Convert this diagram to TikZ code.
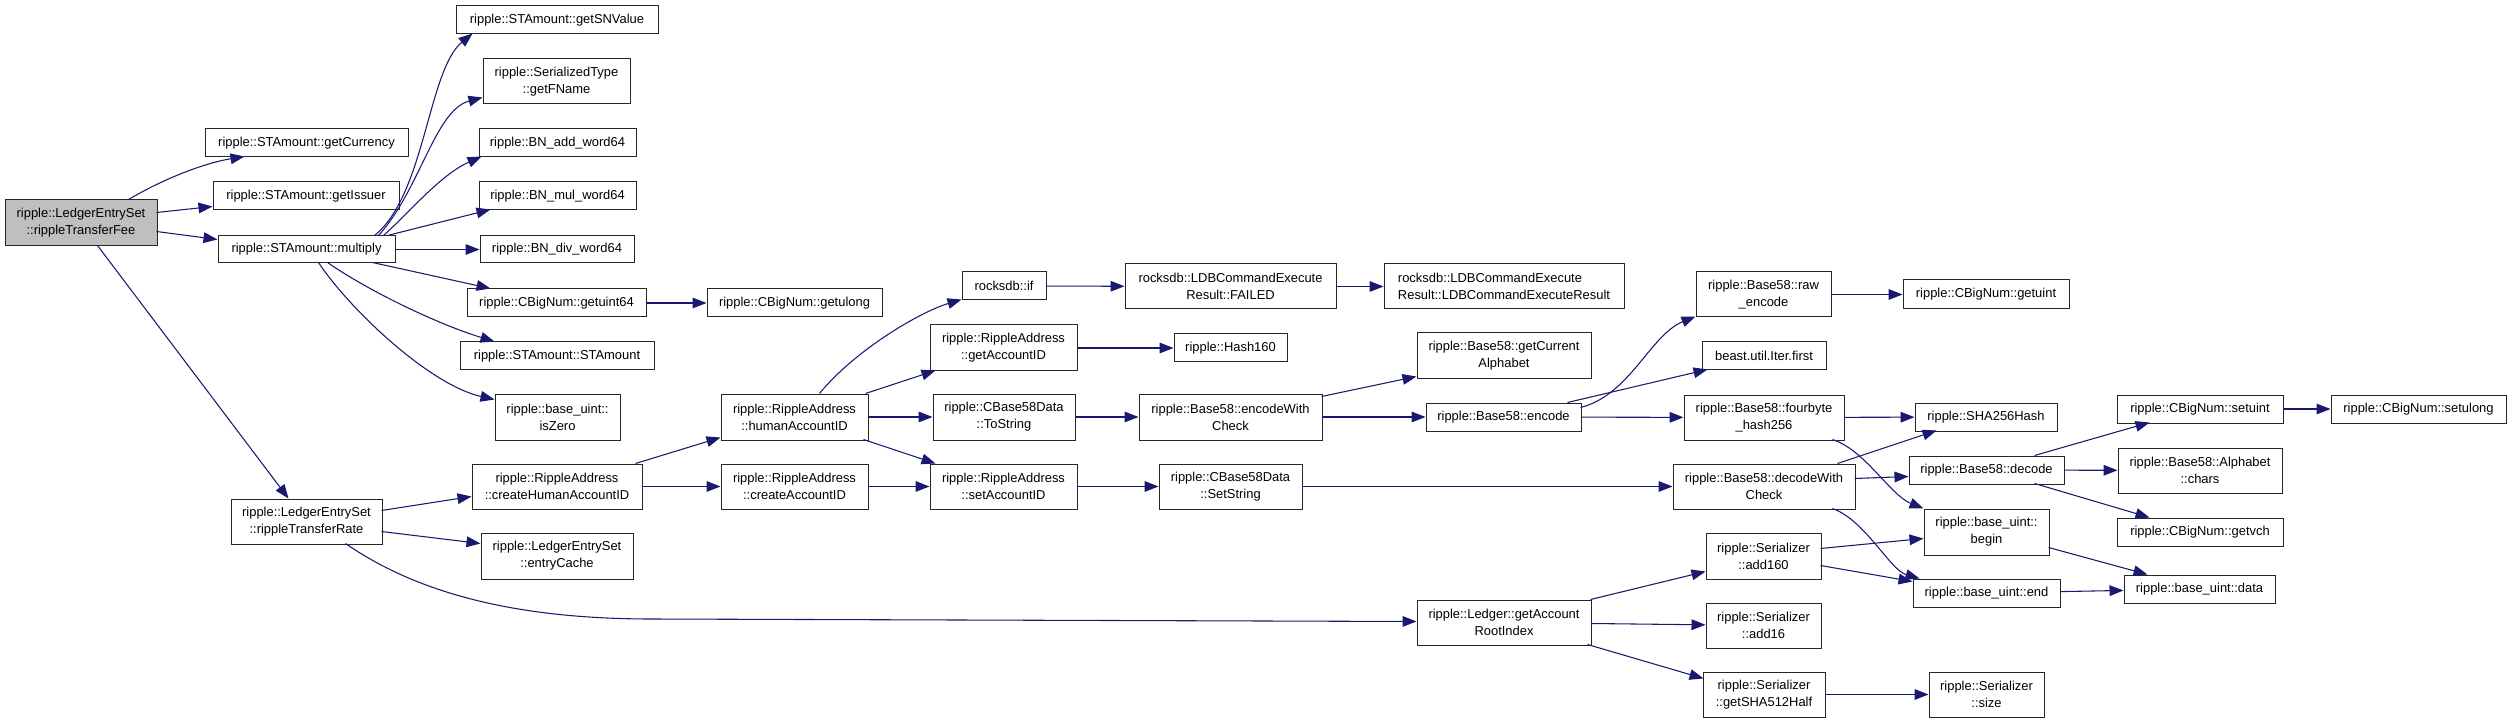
\documentclass[tikz,border=0pt]{standalone}
\usepackage{fontspec}
\setmainfont{Liberation Sans}
\usetikzlibrary{arrows.meta,calc}
\definecolor{edgecol}{RGB}{25,25,112}
\definecolor{rootfill}{RGB}{191,191,191}
\newcommand\nd[7][]{\node[box,#1,minimum width={(#4-#3)*0.75pt},minimum height={(#6-#5)*0.75pt}] (#2) at ({(#3+#4)/2},{(#5+#6)/2}) {#7};}
\begin{document}
\begin{tikzpicture}[x=0.75pt,y=-0.75pt,
  box/.style={draw=black!85,line width=0.75pt,inner sep=0pt,align=center,fill=white,font=\fontsize{9.7}{12.8}\selectfont},
  ce/.style={draw=edgecol,line width=0.8pt,-{Triangle[length=10.5pt,width=8pt]}}]
\useasboundingbox (0,0) rectangle (2512,723);
\nd[fill=rootfill]{fee}{5}{157}{200}{246}{ripple::LedgerEntrySet\\::rippleTransferFee}
\nd{getCurrency}{205}{408}{129}{157}{ripple::STAmount::getCurrency}
\nd{getIssuer}{213}{399}{182}{210}{ripple::STAmount::getIssuer}
\nd{multiply}{218}{395}{236}{263}{ripple::STAmount::multiply}
\nd{rate}{231}{382}{499}{544}{ripple::LedgerEntrySet\\::rippleTransferRate}
\nd{getSNValue}{456}{658}{6}{34}{ripple::STAmount::getSNValue}
\nd{getFName}{483}{630}{59}{104}{ripple::SerializedType\\::getFName}
\nd{BNadd}{479}{636}{129}{157}{ripple::BN\_add\_word64}
\nd{BNmul}{479}{636}{182}{210}{ripple::BN\_mul\_word64}
\nd{BNdiv}{480}{634}{236}{263}{ripple::BN\_div\_word64}
\nd{getuint64}{467}{646}{289}{317}{ripple::CBigNum::getuint64}
\nd{STAmount}{460}{654}{342}{370}{ripple::STAmount::STAmount}
\nd{isZero}{495}{620}{394}{440}{ripple::base\_uint::\\isZero}
\nd{createHuman}{472}{642}{464}{509}{ripple::RippleAddress\\::createHumanAccountID}
\nd{entryCache}{481}{633}{533}{579}{ripple::LedgerEntrySet\\::entryCache}
\nd{getulong}{707}{882}{289}{317}{ripple::CBigNum::getulong}
\nd{human}{721}{868}{394}{440}{ripple::RippleAddress\\::humanAccountID}
\nd{createAcc}{721}{868}{464}{509}{ripple::RippleAddress\\::createAccountID}
\nd{rocksif}{962}{1046}{272}{300}{rocksdb::if}
\nd{getAccID}{930}{1077}{325}{371}{ripple::RippleAddress\\::getAccountID}
\nd{ToString}{933}{1075}{394}{440}{ripple::CBase58Data\\::ToString}
\nd{setAccID}{930}{1077}{464}{509}{ripple::RippleAddress\\::setAccountID}
\nd{FAILED}{1125}{1336}{264}{309}{rocksdb::LDBCommandExecute\\Result::FAILED}
\nd{Hash160}{1174}{1287}{334}{362}{ripple::Hash160}
\nd{encWC}{1139}{1322}{394}{440}{ripple::Base58::encodeWith\\Check}
\nd{SetString}{1159}{1302}{464}{509}{ripple::CBase58Data\\::SetString}
\nd[align=left]{LDBResult}{1384}{1624}{264}{309}{rocksdb::LDBCommandExecute\\Result::LDBCommandExecuteResult}
\nd{getCurAlph}{1417}{1591}{333}{379}{ripple::Base58::getCurrent\\Alphabet}
\nd{encode}{1426}{1581}{403}{431}{ripple::Base58::encode}
\nd{decWC}{1673}{1855}{464}{509}{ripple::Base58::decodeWith\\Check}
\nd{getAcctRoot}{1417}{1591}{600}{645}{ripple::Ledger::getAccount\\RootIndex}
\nd{rawencode}{1696}{1831}{272}{317}{ripple::Base58::raw\\\_encode}
\nd{iterfirst}{1702}{1826}{342}{370}{beast.util.Iter.first}
\nd{fourbyte}{1684}{1844}{395}{440}{ripple::Base58::fourbyte\\\_hash256}
\nd{add160}{1706}{1821}{533}{579}{ripple::Serializer\\::add160}
\nd{add16}{1706}{1821}{603}{648}{ripple::Serializer\\::add16}
\nd{sha512}{1703}{1825}{672}{717}{ripple::Serializer\\::getSHA512Half}
\nd{getuint}{1903}{2069}{280}{309}{ripple::CBigNum::getuint}
\nd{SHA256}{1915}{2057}{403}{431}{ripple::SHA256Hash}
\nd{decode}{1909}{2064}{456}{484}{ripple::Base58::decode}
\nd{beginn}{1924}{2049}{509}{555}{ripple::base\_uint::\\begin}
\nd{endn}{1913}{2060}{579}{607}{ripple::base\_uint::end}
\nd{size}{1929}{2044}{672}{717}{ripple::Serializer\\::size}
\nd{setuint}{2117}{2283}{395}{423}{ripple::CBigNum::setuint}
\nd{chars}{2118}{2282}{448}{493}{ripple::Base58::Alphabet\\::chars}
\nd{getvch}{2117}{2283}{518}{546}{ripple::CBigNum::getvch}
\nd{data}{2124}{2275}{575}{603}{ripple::base\_uint::data}
\nd{setulong}{2331}{2506}{395}{423}{ripple::CBigNum::setulong}

\draw[ce] ($(fee.north west)+(124,0)$) .. controls (165,178) and (205,163) .. ($(getCurrency.north west)+(40,28)$);
\draw[ce] ($(fee.north west)+(152,13)$) -- ($(getIssuer.north west)+(0,25)$);
\draw[ce] ($(fee.north west)+(152,32)$) -- ($(multiply.north west)+(0,4)$);
\draw[ce] ($(fee.north west)+(93,46)$) -- ($(rate.north west)+(58,0)$);
\draw[ce] ($(multiply.north west)+(157,0)$) .. controls (425,195) and (428,70) .. ($(getSNValue.north west)+(17,28)$);
\draw[ce] ($(multiply.north west)+(161,0)$) .. controls (420,190) and (435,110) .. ($(getFName.north west)+(0,39)$);
\draw[ce] ($(multiply.north west)+(166,0)$) .. controls (410,212) and (440,175) .. ($(BNadd.north west)+(3,28)$);
\draw[ce] ($(multiply.north west)+(170,0)$) -- ($(BNmul.north west)+(12,28)$);
\draw[ce] (multiply) -- (BNdiv);
\draw[ce] ($(multiply.north west)+(155,27)$) -- ($(getuint64.north west)+(24,0)$);
\draw[ce] ($(multiply.north west)+(110,27)$) .. controls (370,292) and (440,325) .. ($(STAmount.north west)+(35,0)$);
\draw[ce] ($(multiply.north west)+(101,27)$) .. controls (350,310) and (430,385) .. ($(isZero.north west)+(0,6)$);
\draw[ce] (getuint64) -- (getulong);
\draw[ce] ($(rate.north west)+(151,12)$) -- ($(createHuman.north west)+(0,33)$);
\draw[ce] ($(rate.north west)+(151,33)$) -- ($(entryCache.north west)+(0,11)$);
\draw[ce] ($(rate.north west)+(115,45)$) .. controls (420,595) and (520,619) .. (652,619) -- ($(getAcctRoot.north west)+(0,22)$);
\draw[ce] ($(createHuman.north west)+(164,0)$) -- ($(human.north west)+(0,44)$);
\draw[ce] (createHuman) -- (createAcc);
\draw[ce] ($(human.north west)+(99,0)$) .. controls (855,350) and (920,312) .. ($(rocksif.north west)+(0,28)$);
\draw[ce] ($(human.north west)+(145,0)$) -- ($(getAccID.north west)+(6,46)$);
\draw[ce] (human) -- (ToString);
\draw[ce] ($(human.north west)+(143,46)$) -- ($(setAccID.north west)+(6,0)$);
\draw[ce] (createAcc) -- (setAccID);
\draw[ce] (rocksif) -- (FAILED);
\draw[ce] (FAILED) -- (LDBResult);
\draw[ce] (getAccID) -- (Hash160);
\draw[ce] (ToString) -- (encWC);
\draw[ce] (setAccID) -- (SetString);
\draw[ce] ($(encWC.north west)+(183,3)$) -- ($(getCurAlph.north west)+(0,44)$);
\draw[ce] (encWC) -- (encode);
\draw[ce] (SetString) -- (decWC);
\draw[ce] ($(encode.north west)+(155,5)$) .. controls (1630,395) and (1650,335) .. ($(rawencode.north west)+(0,45)$);
\draw[ce] ($(encode.north west)+(142,0)$) -- ($(iterfirst.north west)+(6,28)$);
\draw[ce] (encode) -- (fourbyte);
\draw[ce] (rawencode) -- (getuint);
\draw[ce] (fourbyte) -- (SHA256);
\draw[ce] ($(fourbyte.north west)+(149,45)$) .. controls (1865,450) and (1890,495) .. (beginn.north west);
\draw[ce] ($(decWC.north west)+(165,0)$) -- ($(SHA256.north west)+(22,28)$);
\draw[ce] ($(decWC.north west)+(182,15)$) -- ($(decode.north west)+(0,21)$);
\draw[ce] ($(decWC.north west)+(160,45)$) .. controls (1865,520) and (1890,570) .. ($(endn.north west)+(7,0)$);
\draw[ce] ($(add160.north west)+(115,16)$) -- ($(beginn.north west)+(0,30)$);
\draw[ce] ($(add160.north west)+(115,33)$) -- ($(endn.north west)+(0,3)$);
\draw[ce] ($(getAcctRoot.north west)+(174,0)$) -- ($(add160.north west)+(0,39)$);
\draw[ce] (getAcctRoot) -- (add16);
\draw[ce] ($(getAcctRoot.north west)+(171,45)$) -- ($(sha512.north west)+(1,7)$);
\draw[ce] (sha512) -- (size);
\draw[ce] ($(decode.north west)+(126,0)$) -- ($(setuint.north west)+(33,28)$);
\draw[ce] (decode) -- (chars);
\draw[ce] ($(decode.north west)+(126,28)$) -- ($(getvch.north west)+(33,0)$);
\draw[ce] (setuint) -- (setulong);
\draw[ce] ($(beginn.north west)+(125,39)$) -- ($(data.north west)+(24,0)$);
\draw[ce] (endn) -- (data);
\end{tikzpicture}
\end{document}
